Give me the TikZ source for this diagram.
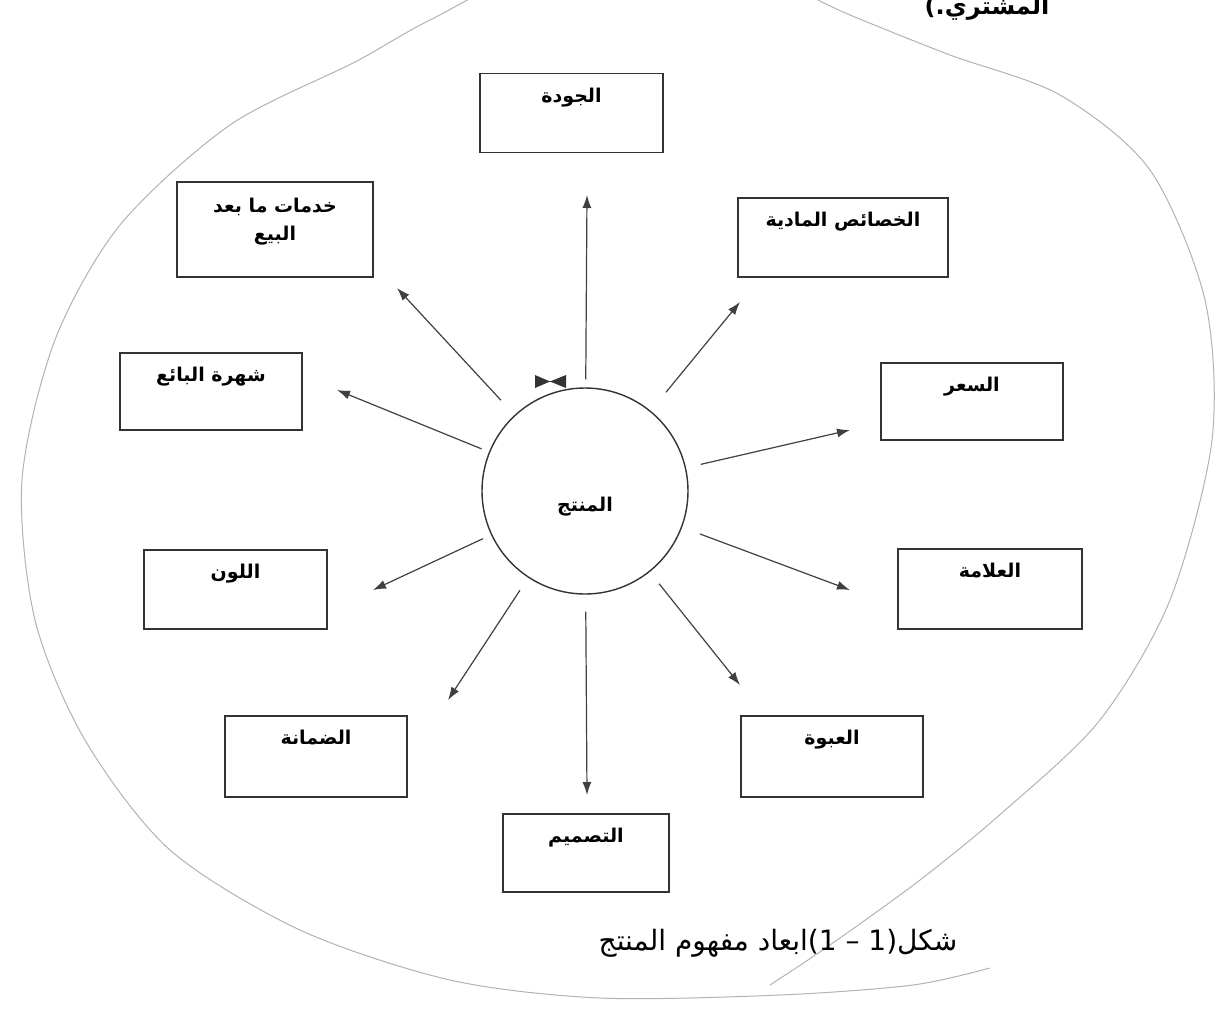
\documentclass[tikz,border=0pt]{standalone}
\usepackage{fontspec}
\newfontfamily\arabicfont[Script=Arabic]{DejaVu Sans}
\TeXXeTstate=1
\usetikzlibrary{arrows.meta}
\newcommand{\artxt}[1]{\arabicfont\beginR #1\endR}

\begin{document}
\begin{tikzpicture}[
    x=0.5pt, y=-0.5pt,
    dimbox/.style={draw=black!80, line width=0.9pt, minimum width=91pt, minimum height=39.5pt, inner sep=0pt},
    lbl/.style={anchor=north, font=\bfseries\fontsize{9.5}{12}\selectfont, yshift=-5.5pt, inner sep=2pt},
    core/.style={circle, draw=black!80, line width=0.7pt, minimum size=103pt, inner sep=0pt},
    arr/.style={draw=black!75, line width=0.6pt, -{Latex[length=6.5pt,width=4.5pt]}},
    outline/.style={draw=black!30, line width=0.5pt}
]
\useasboundingbox (0,0) rectangle (1217,1008);

% outer freehand outline
\draw[outline] plot[smooth] coordinates {(770,985) (830,945) (920,880) (1003,812) (1100,720)
    (1170,600) (1212,440) (1205,300) (1150,170) (1060,95) (950,55) (850,15) (720,-40)
    (560,-40) (430,20) (355,62) (230,125) (120,225) (55,340) (22,480) (35,620) (85,740)
    (170,850) (300,930) (450,980) (600,998) (780,995) (913,985) (990,968)};

% centre
\node[core, label={[font=\bfseries\fontsize{9.5}{12}\selectfont, yshift=-8pt]center:{\artxt{المنتج}}}] (prod) at (585,491) {};

% dimensions
\node[dimbox, minimum width=91.5pt, label={[lbl]north:{\artxt{الجودة}}}] (qual) at (571.5,113) {};
\node[dimbox, minimum width=98pt, minimum height=47.5pt,
      label={[lbl, align=center, yshift=-1pt]north:{\artxt{خدمات ما بعد}\\[2pt]\artxt{البيع}}}] (serv) at (275,229.5) {};
\node[dimbox, minimum width=105pt, label={[lbl]north:{\artxt{الخصائص المادية}}}] (phys) at (843,237.5) {};
\node[dimbox, minimum height=38.5pt, label={[lbl]north:{\artxt{شهرة البائع}}}] (fame) at (211,391.5) {};
\node[dimbox, minimum height=38.5pt, label={[lbl]north:{\artxt{السعر}}}] (price) at (972,401.5) {};
\node[dimbox, minimum width=91.5pt, label={[lbl]north:{\artxt{اللون}}}] (colour) at (235.5,589.5) {};
\node[dimbox, minimum width=92pt, minimum height=40pt, label={[lbl]north:{\artxt{العلامة}}}] (brand) at (990,589) {};
\node[dimbox, minimum height=40.5pt, label={[lbl]north:{\artxt{الضمانة}}}] (warr) at (316,756.5) {};
\node[dimbox, minimum height=40.5pt, label={[lbl]north:{\artxt{العبوة}}}] (pack) at (832,756.5) {};
\node[dimbox, minimum width=83pt, minimum height=39pt, label={[lbl]north:{\artxt{التصميم}}}] (design) at (586,853) {};

% arrow tips
\coordinate (tqual) at (587,195);
\coordinate (tphys) at (740,302);
\coordinate (tprice) at (850,430);
\coordinate (tbrand) at (850,590);
\coordinate (tpack) at (740,685);
\coordinate (tdesign) at (587,795);
\coordinate (twarr) at (448,700);
\coordinate (tcolour) at (373,590);
\coordinate (tfame) at (337,390);
\coordinate (tserv) at (397,288);

\foreach \t/\g in {tqual/4, tphys/12, tprice/7.5, tbrand/9.5, tpack/7.5,
                   tdesign/8.5, twarr/7.5, tcolour/4.5, tfame/4, tserv/10}
    \draw[arr, shorten <=\g pt] (prod) -- (\t);

% small mark above the circle
\fill[black!80] (535,375) -- (550,381.5) -- (535,388) -- cycle;
\fill[black!80] (566,375) -- (550,381.5) -- (566,388) -- cycle;
\draw[black!80, line width=0.6pt] (535,381.5) -- (566,381.5);

% caption and cut text
\node[font=\fontsize{14}{17}\selectfont] (cap) at (778,943) {\artxt{شكل(1 – 1)ابعاد مفهوم المنتج}};
\node[font=\bfseries\large, anchor=base] (cut) at (987,14) {\artxt{المشتري.)}};

\end{tikzpicture}
\end{document}
